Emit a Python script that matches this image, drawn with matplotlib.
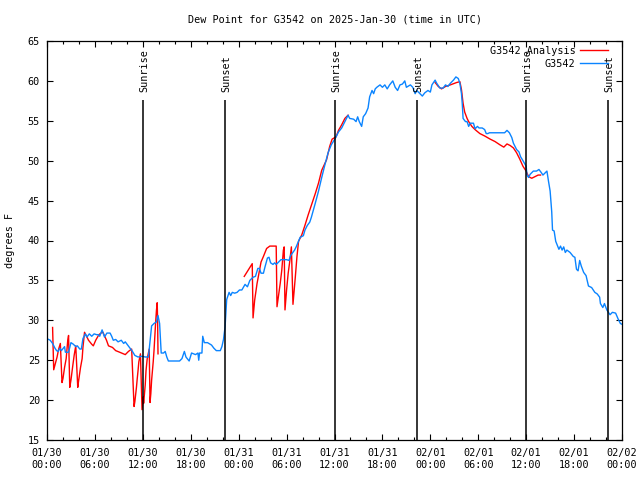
import matplotlib
matplotlib.use("Agg")
import matplotlib.pyplot as plt
import numpy as np

# ---------------- data (hours since 2025-01-30 00:00 UTC, degrees F) ----------------
obs_hours = [0.0, 0.4, 0.7, 1.0, 1.2, 1.4, 1.6, 1.8, 2.2, 2.3, 2.7, 3.0, 3.3, 3.6, 3.8, 4.1, 4.3,
             4.5, 4.8, 5.0, 5.3, 5.6, 5.9, 6.2, 6.4, 6.6, 6.9, 7.2, 7.5, 7.9, 8.1, 8.3, 8.6, 8.9,
             9.3, 9.6, 9.8, 10.1, 10.4, 10.7, 11.0, 11.4, 11.9, 12.3, 12.7, 12.9, 13.1, 13.4, 13.7,
             13.9, 14.1, 14.3, 14.6, 14.8, 15.0, 15.2, 16.6, 16.9, 17.2, 17.4, 17.8, 18.1, 18.6,
             18.9, 19.0, 19.1, 19.4, 19.5, 19.7, 20.1, 20.6, 20.9, 21.2, 21.7, 21.9, 22.1, 22.3,
             22.4, 22.5, 22.8, 23.0, 23.2, 23.5, 23.8, 24.1, 24.4, 24.8, 25.1, 25.4, 25.8, 26.1,
             26.4, 26.6, 26.8, 27.1, 27.3, 27.6, 27.8, 28.0, 28.3, 28.5, 28.7, 29.0, 29.3, 29.6,
             30.0, 30.3, 30.5, 31.0, 31.2, 31.7, 32.1, 32.3, 32.6, 32.9, 33.1, 33.6, 34.0, 34.4,
             34.8, 35.2, 35.6, 36.1, 36.5, 36.9, 37.3, 37.7, 37.9, 38.4, 38.7, 38.9, 39.1, 39.4,
             39.6, 39.9, 40.2, 40.4, 40.7, 40.9, 41.1, 41.3, 41.7, 42.0, 42.3, 42.6, 42.9, 43.3,
             43.6, 43.9, 44.2, 44.5, 44.8, 45.0, 45.5, 45.8, 46.1, 46.3, 46.7, 47.0, 47.3, 47.7,
             48.0, 48.2, 48.6, 48.8, 49.2, 49.6, 49.9, 50.2, 50.5, 50.9, 51.2, 51.5, 51.7, 51.9,
             52.0, 52.1, 52.4, 52.6, 52.8, 53.0, 53.4, 53.6, 53.9, 54.1, 54.5, 54.8, 55.0, 55.2,
             55.4, 56.0, 56.7, 57.3, 57.6, 57.9, 58.2, 58.4, 58.8, 59.1, 59.3, 59.6, 60.0, 60.1,
             60.3, 60.5, 60.9, 61.3, 61.6, 61.9, 62.1, 62.5, 62.6, 62.8, 63.0, 63.2, 63.3, 63.5,
             63.7, 63.9, 64.1, 64.3, 64.5, 64.7, 64.9, 65.1, 65.5, 65.9, 66.1, 66.3, 66.5, 66.7,
             66.9, 67.2, 67.5, 67.8, 68.2, 68.6, 68.9, 69.2, 69.3, 69.6, 69.8, 70.1, 70.5, 70.8,
             71.2, 71.5, 71.8, 72.0]
obs_dewpt = [27.7, 27.5, 27.1, 26.5, 26.2, 26.1, 26.5, 26.2, 26.7, 26.0, 26.0, 27.2, 27.0, 26.7, 26.8, 26.4, 26.4,
             27.7, 28.3, 27.9, 28.3, 28.0, 28.3, 28.2, 28.2, 28.0, 28.8, 27.9, 28.4, 28.4, 28.0, 27.5, 27.6, 27.3,
             27.5, 27.1, 27.3, 26.9, 26.5, 26.1, 25.6, 25.4, 25.5, 25.4, 25.4, 27.3, 29.3, 29.6, 29.8,
             30.6, 29.6, 25.9, 25.9, 26.1, 25.4, 24.9, 24.9, 25.2, 26.1, 25.4, 24.9, 25.9, 25.7,
             25.9, 25.0, 25.9, 25.9, 28.0, 27.2, 27.2, 26.9, 26.5, 26.2, 26.2, 26.7, 27.6, 29.2,
             31.0, 32.6, 33.5, 33.1, 33.5, 33.4, 33.5, 33.8, 33.8, 34.5, 34.2, 35.0, 35.4, 35.5,
             36.5, 36.5, 35.9, 35.9, 36.7, 37.8, 37.9, 37.2, 37.0, 37.2, 37.0, 37.3, 37.6, 37.6,
             37.6, 37.5, 38.1, 38.8, 39.2, 40.4, 40.6, 41.3, 41.9, 42.3, 42.9, 44.7, 46.2, 47.9,
             49.5, 51.0, 52.0, 52.8, 53.6, 54.1, 54.9, 55.7, 55.3, 55.2, 54.9, 55.5, 54.9, 54.3,
             55.5, 55.9, 56.6, 58.0, 58.8, 58.4, 59.0, 59.2, 59.5, 59.2, 59.5, 59.0, 59.5, 60.0,
             59.2, 58.8, 59.5, 59.6, 60.0, 59.2, 59.5, 59.2, 58.4, 58.8, 58.4, 58.1, 58.5, 58.8,
             58.6, 59.5, 60.1, 59.7, 59.1, 59.1, 59.5, 59.3, 59.7, 60.1, 60.5, 60.3, 59.7, 58.4,
             57.1, 55.3, 54.9, 54.9, 54.3, 54.7, 54.7, 54.0, 54.3, 54.1, 54.1, 53.9, 53.4, 53.4,
             53.5, 53.5, 53.5, 53.5, 53.8, 53.5, 52.9, 52.2, 51.4, 51.1, 50.5, 50.0, 49.3, 48.2,
             47.9, 48.3, 48.7, 48.7, 48.9, 48.5, 48.2, 48.6, 48.7, 47.4, 46.2, 43.6, 41.3, 41.2,
             39.9, 39.4, 38.9, 39.3, 38.8, 39.2, 38.5, 38.8, 38.5, 38.0, 37.9, 36.4, 36.2, 37.5,
             36.8, 36.0, 35.6, 34.3, 34.1, 33.5, 33.3, 32.9, 32.1, 31.6, 32.1, 31.3, 30.7, 31.0,
             30.9, 30.2, 29.6, 29.5]

ana1_hours = [0.7, 0.84, 1.05, 1.26, 1.46, 1.67, 1.88, 2.0, 2.2, 2.4, 2.6, 2.7, 2.85, 3.0, 3.2, 3.4,
              3.6, 3.85, 3.97, 4.2, 4.4, 4.5, 4.7, 4.9, 5.2, 5.6, 5.8, 6.1, 6.5, 6.9, 7.0, 7.45, 7.7,
              8.2, 8.6, 9.1, 9.8, 10.2, 10.6, 10.9, 11.0, 11.2, 11.3, 11.4, 11.5, 11.7, 11.9, 12.05,
              12.1, 12.3, 12.4, 12.55, 12.8, 12.9, 13.0, 13.1, 13.3, 13.4, 13.6, 13.7, 13.8, 13.85, 13.9]
ana1_dewpt = [29.1, 23.8, 24.6, 25.4, 26.4, 27.1, 22.2, 22.7, 24.1, 25.2, 27.5, 28.1, 21.6, 22.5, 24.1, 25.6,
              26.8, 21.6, 22.5, 24.1, 25.2, 26.6, 28.5, 28.1, 27.5, 27.0, 26.8, 27.5, 28.2, 28.5, 28.5, 27.5, 26.8,
              26.6, 26.2, 26.0, 25.7, 26.1, 26.4, 19.2, 19.8, 21.6, 22.7, 23.7, 24.8, 25.8, 18.8, 20.4,
              19.6, 21.9, 23.7, 25.2, 26.4, 19.7, 20.8, 22.5, 24.8, 26.2, 29.7, 31.2, 32.2, 30.0, 25.8]

ana2_hours = [24.7, 25.7, 25.8, 26.0, 26.3, 26.8, 27.1, 27.5, 27.9, 28.7, 28.8, 29.2, 29.4, 29.6, 29.7,
              29.8, 30.0, 30.2, 30.4, 30.6, 30.8, 31.1, 31.3, 31.5, 31.9, 32.3, 32.7, 33.1, 33.6, 34.0,
              34.4, 35.0, 35.4, 35.7, 36.2, 36.5, 36.9, 37.3, 37.7]
ana2_dewpt = [35.5, 37.1, 30.3, 32.5, 34.6, 37.3, 38.0, 39.0, 39.3, 39.3, 31.7, 34.6, 36.3, 38.8, 39.2,
              31.3, 33.8, 35.9, 37.4, 39.2, 32.0, 35.5, 38.0, 39.9, 40.7, 41.9, 43.2, 44.4, 45.9, 47.2,
              48.8, 50.1, 51.8, 52.7, 53.0, 53.8, 54.5, 55.3, 55.7]

ana3_hours = [48.6, 49.0, 49.4, 49.9, 50.5, 51.3, 51.7, 51.9, 52.1, 52.3, 52.6, 52.8, 53.2, 53.6, 54.2,
              54.8, 55.5, 56.1, 56.7, 57.2, 57.6, 58.0, 58.4, 58.8, 59.2, 59.6, 60.0, 60.3, 60.7, 61.1,
              61.5, 61.8]
ana3_dewpt = [59.8, 59.3, 59.0, 59.3, 59.5, 59.8, 59.9, 58.9, 57.2, 56.1, 55.3, 54.9, 54.3, 53.9, 53.4,
              53.1, 52.7, 52.4, 52.0, 51.7, 52.1, 51.9, 51.6, 51.0, 50.2, 49.3, 48.7, 48.0, 47.8, 48.0,
              48.2, 48.2]

sunrise_hours = [12.05, 36.05, 60.0]
sunset_hours = [22.33, 46.35, 70.3]

xtick_hours = [0, 6, 12, 18, 24, 30, 36, 42, 48, 54, 60, 66, 72]
xtick_labels = ["01/30\n00:00", "01/30\n06:00", "01/30\n12:00", "01/30\n18:00",
                "01/31\n00:00", "01/31\n06:00", "01/31\n12:00", "01/31\n18:00",
                "02/01\n00:00", "02/01\n06:00", "02/01\n12:00", "02/01\n18:00",
                "02/02\n00:00"]

# ---------------- figure ----------------
FONT = "DejaVu Sans Mono"
FS = 7.3
plt.rcParams["font.family"] = [FONT]

fig = plt.figure(figsize=(6.4, 4.8), dpi=100)
ax = fig.add_axes([47/640, 40/480, 575/640, 399/480])

RED = "#ff0000"
BLUE = "#0a84ff"

ax.plot(ana1_hours, ana1_dewpt, color=RED, lw=1.0, label="G3542 Analysis")
ax.plot(ana2_hours, ana2_dewpt, color=RED, lw=1.0)
ax.plot(ana3_hours, ana3_dewpt, color=RED, lw=1.0)
ax.plot(obs_hours, obs_dewpt, color=BLUE, lw=1.0, label="G3542")

line_top = 57.6
label_y = 58.6
for h in sunrise_hours:
    ax.vlines(h, 15, line_top, color="black", lw=1.1)
    ax.text(h + 0.15, label_y, "Sunrise", rotation=90, ha="center", va="bottom",
            fontsize=FS, family=FONT)
for h in sunset_hours:
    ax.vlines(h, 15, line_top, color="black", lw=1.1)
    ax.text(h + 0.15, label_y, "Sunset", rotation=90, ha="center", va="bottom",
            fontsize=FS, family=FONT)

ax.set_xlim(0, 72)
ax.set_ylim(15, 65)
ax.set_xticks(xtick_hours)
ax.set_xticklabels(xtick_labels)
ax.set_xticks(np.arange(0, 73, 2), minor=True)
ax.set_yticks(np.arange(15, 66, 5))

ax.tick_params(axis="both", which="both", direction="in", top=True, right=True,
               labelsize=FS, width=0.8)
ax.tick_params(axis="both", which="major", length=4)
ax.tick_params(axis="x", which="minor", length=2.5)
ax.tick_params(axis="x", which="major", pad=6)
ax.tick_params(axis="y", which="major", pad=5)
for sp in ax.spines.values():
    sp.set_linewidth(0.9)

ax.set_title("Dew Point for G3542 on 2025-Jan-30 (time in UTC)", fontsize=FS, pad=13)
ax.set_ylabel("degrees F", fontsize=FS)
ax.yaxis.set_label_coords(-0.056, 0.5)

leg = ax.legend(loc="upper right", bbox_to_anchor=(1 - 14/575, 1 - 5/399),
                frameon=False, markerfirst=False, fontsize=FS,
                handlelength=2.8, handletextpad=0.4, labelspacing=0.25,
                borderaxespad=0.0, borderpad=0.0)

fig.savefig("out.png", dpi=100)
